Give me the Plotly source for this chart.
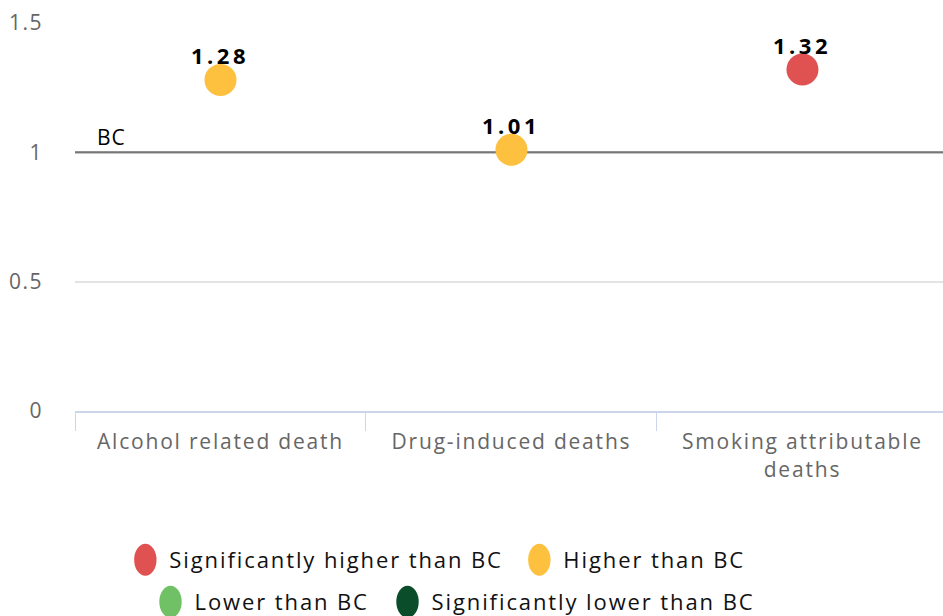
import plotly.graph_objects as go

categories = ["Alcohol related death", "Drug-induced deaths", "Smoking attributable<br>deaths"]
values = [1.28, 1.01, 1.32]
statuses = ["Higher than BC", "Higher than BC", "Significantly higher than BC"]

status_names = ["Significantly higher than BC", "Higher than BC", "Lower than BC", "Significantly lower than BC"]
status_colors = ["#e05252", "#fdc13f", "#70c165", "#0a4d2a"]
legend_rows = ["legend", "legend", "legend2", "legend2"]

y_ticks = [0, 0.5, 1, 1.5]
y_tick_text = ["0", "0.5", "1", "1.5"]
baseline = 1
baseline_label = "BC"

FONT = "Open Sans"

fig = go.Figure()
for name, color, lg in zip(status_names, status_colors, legend_rows):
    xs = [c for c, s in zip(categories, statuses) if s == name]
    ys = [v for v, s in zip(values, statuses) if s == name]
    if not xs:
        xs, ys = [None], [None]
    fig.add_trace(go.Scatter(
        x=xs, y=ys, name=name, mode="markers",
        marker=dict(color=color, size=32, line=dict(width=0)),
        legend=lg, cliponaxis=False, hoverinfo="x+y",
    ))

# data labels above each point
for c, v in zip(categories, values):
    fig.add_annotation(x=c, y=v, xref="x", yref="y", text=f"{v:.2f}", showarrow=False,
                       yshift=25, font=dict(family=FONT, size=22, color="#000000", weight="bold"))

# baseline (BC) across the whole category range
fig.add_shape(type="line", xref="paper", x0=0, x1=1, yref="y",
              y0=baseline, y1=baseline, line=dict(color="#777777", width=2), layer="below")
fig.add_shape(type="line", xref="x", x0=-0.5, x1=len(categories) - 0.5, yref="y",
              y0=baseline, y1=baseline, line=dict(color="#777777", width=2), layer="between")
fig.add_annotation(x=0, xref="paper", xanchor="left", xshift=21, y=baseline, yref="y",
                   yanchor="bottom", yshift=-1, text=baseline_label, showarrow=False,
                   font=dict(family=FONT, size=21, color="#000000"))

fig.update_layout(
    width=943, height=616,
    margin=dict(l=75, r=0, t=23, b=205, autoexpand=False),
    paper_bgcolor="white", plot_bgcolor="white",
    font=dict(family=FONT),
    legend=dict(orientation="h", x=0.058, xanchor="left", y=-0.384, yanchor="middle",
                entrywidth=349, entrywidthmode="pixels", itemsizing="trace",
                font=dict(family=FONT, size=22, color="#111111"), bgcolor="rgba(0,0,0,0)"),
    legend2=dict(orientation="h", x=0.087, xanchor="left", y=-0.492, yanchor="middle",
                 entrywidth=192, entrywidthmode="pixels", itemsizing="trace",
                 font=dict(family=FONT, size=22, color="#111111"), bgcolor="rgba(0,0,0,0)"),
    xaxis=dict(type="category", categoryorder="array", categoryarray=categories,
               range=[-0.5, 2.483], showline=True, linecolor="#ccd6eb", linewidth=2,
               ticks="outside", tickson="boundaries", ticklen=18, tickcolor="#ccd6eb",
               ticklabelstandoff=11,
               tickfont=dict(family=FONT, size=21, color="#666666"), showgrid=False,
               automargin=False, fixedrange=True),
    yaxis=dict(range=[0, 1.5], tickvals=y_ticks, ticktext=y_tick_text, showgrid=True,
               gridcolor="#e3e3e3", gridwidth=2, zeroline=False, ticks="outside", ticklen=0,
               ticklabelstandoff=27, tickfont=dict(family=FONT, size=21, color="#666666"),
               automargin=False, fixedrange=True),
)

css = (
    ".xtick text{letter-spacing:1.8px}"
    ".ytick text{letter-spacing:1.4px}"
    "text.legendtext, .legend text, .legend2 text, .infolayer [class*=legend] text"
    "{letter-spacing:1.9px;transform:translate(4px,0px)}"
    ".annotation-text{letter-spacing:3.5px}"
    ".annotation[data-index=\"3\"] .annotation-text{letter-spacing:1px}"
    ".legendpoints path{transform:translate(20px,0px) scale(1.4,2.0)}"
    ".scrollbox{clip-path:none !important}"
)
post = ("document.body.style.margin='0';"
        "var s=document.createElement('style');s.textContent='" + css + "';"
        "document.head.appendChild(s);")

fig.write_html("out.html", post_script=post, config={"displayModeBar": False})
